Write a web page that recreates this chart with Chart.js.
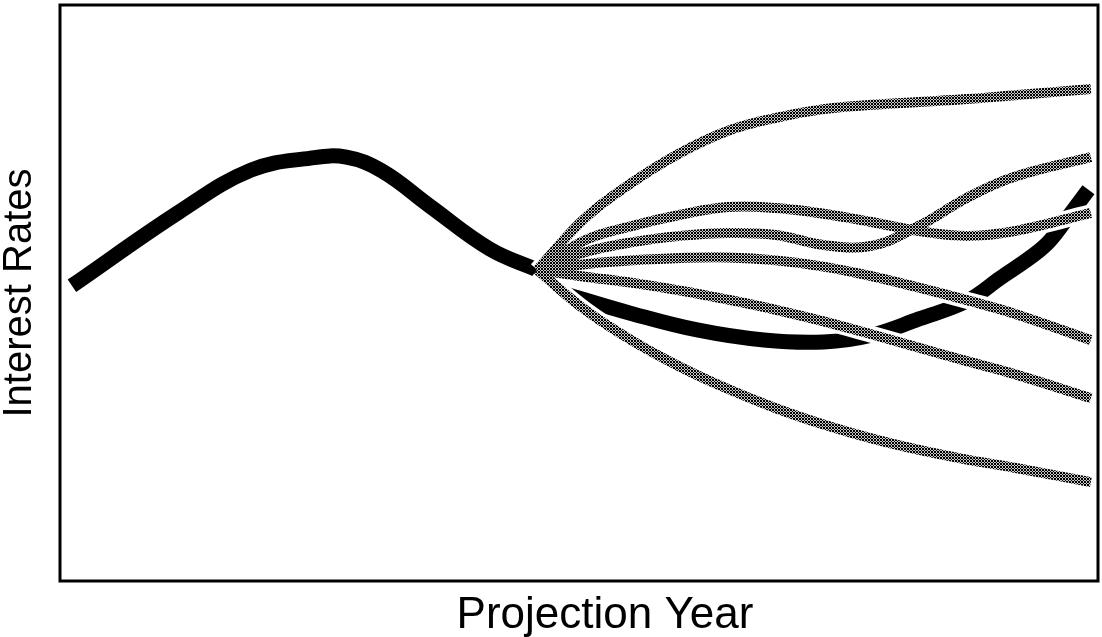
<!DOCTYPE html>
<html>
<head>
<meta charset="utf-8">
<title>Interest Rates</title>
<script src="https://cdn.jsdelivr.net/npm/chart.js@4.4.1/dist/chart.umd.min.js"></script>
<style>
  html, body { margin:0; padding:0; background:#fff; }
</style>
</head>
<body>
<canvas id="rateChart" width="1102" height="637"></canvas>
<script>
// history up to the projection start (year 0)
let histYears = [-19.5, -15, -12, -9.5, -8, -6.5, -4.5, -2, 0];
let histRates = [6.15, 7.69, 8.56, 8.81, 8.83, 8.54, 7.81, 6.92, 6.48];

// the path that actually happened (black)
let baseYears = [1.3, 3.9, 6.7, 9.5, 12.0, 14, 16.0, 18.0, 19.4, 20.8, 21.5, 22.3, 23.1];
let baseRates = [5.96, 5.58, 5.23, 5.02, 4.98, 5.12, 5.46, 5.83, 6.31, 6.79, 7.1, 7.62, 8.15];

// projected scenarios (grey)
let futureYears = [0, 2, 4, 6, 8, 10, 12, 14, 16, 18, 20, 23.2];
let scenario1 = [6.48, 7.56, 8.31, 8.92, 9.38, 9.65, 9.83, 9.92, 9.98, 10.04, 10.12, 10.25];
let scenario2 = [6.48, 7.1, 7.4, 7.63, 7.79, 7.77, 7.65, 7.48, 7.29, 7.19, 7.29, 7.67];
let scenario3 = [6.48, 6.85, 7.06, 7.19, 7.25, 7.21, 7.0, 6.98, 7.4, 7.98, 8.42, 8.83];
let scenario4 = [6.48, 6.6, 6.68, 6.73, 6.74, 6.68, 6.55, 6.35, 6.11, 5.85, 5.57, 5.02];
let scenario5 = [6.48, 6.34, 6.21, 6.05, 5.86, 5.65, 5.41, 5.14, 4.86, 4.58, 4.31, 3.81];
let scenario6 = [6.48, 5.65, 5.0, 4.46, 4.0, 3.6, 3.26, 2.97, 2.73, 2.53, 2.36, 2.06];
let scenarios = [scenario1, scenario2, scenario3, scenario4, scenario5, scenario6];

let xTitle = 'Projection Year';
let yTitle = 'Interest Rates';

function toPoints(xs, ys){
    let pts = [];
    for (let i = 0; i < xs.length; i++){
        pts.push({x: xs[i], y: ys[i]});
    }
    return pts;
}

// halftone look of the grey lines: little x's
function makeHatch(){
    var c = document.createElement('canvas');
    c.width = 3; c.height = 3;
    var g = c.getContext('2d');
    g.fillStyle = '#c8c8c8';
    g.fillRect(0, 0, 3, 3);
    g.fillStyle = '#000';
    for (var x = 0; x < 3; x++){
        for (var y = 0; y < 3; y++){
            if ((x + y) % 3 === 0 || (x - y + 3) % 3 === 0) g.fillRect(x, y, 1, 1);
        }
    }
    return g.createPattern(c, 'repeat');
}

var hatch = makeHatch();
var datasets = [];

scenarios.forEach(function(s){
    datasets.push({
        data: toPoints(futureYears, s),
        borderColor: hatch,
        borderWidth: 10,
        borderCapStyle: 'butt',
        order: 0
    });
    // white casing so the grey lines cut the black one
    datasets.push({
        data: toPoints(futureYears, s),
        borderColor: '#fff',
        borderWidth: 17,
        borderCapStyle: 'butt',
        order: 1
    });
});

datasets.push({
    data: toPoints(histYears, histRates),
    borderColor: '#000',
    borderWidth: 15,
    borderCapStyle: 'butt',
    order: 2
});
datasets.push({
    data: toPoints(baseYears, baseRates),
    borderColor: '#000',
    borderWidth: 15,
    borderCapStyle: 'butt',
    order: 2
});

var titleFont = 'Liberation Sans, Arial, Helvetica, sans-serif';

// box round the plot + x axis title (sits a bit right of centre in the original)
const framePlugin = {
    id: 'frame',
    afterDraw(chart){
        const ctx = chart.ctx;
        const a = chart.chartArea;
        ctx.save();
        ctx.strokeStyle = '#000';
        ctx.lineWidth = 3;
        ctx.strokeRect(a.left, a.top, a.right - a.left, a.bottom - a.top);
        ctx.fillStyle = '#000';
        ctx.font = '44px ' + titleFont;
        ctx.textAlign = 'center';
        ctx.textBaseline = 'alphabetic';
        ctx.fillText(xTitle, (a.left + a.right) / 2 + 26, a.bottom + 47);
        ctx.restore();
    }
};

new Chart(document.getElementById('rateChart').getContext('2d'), {
    type: 'line',
    data: {datasets: datasets},
    options: {
        responsive: false,
        animation: false,
        layout: {padding: {top: 5, right: 4, left: 0, bottom: 56}},
        elements: {
            point: {radius: 0},
            line: {tension: 0.4, borderJoinStyle: 'round', fill: false}
        },
        plugins: {legend: {display: false}, tooltip: {enabled: false}},
        scales: {
            x: {
                type: 'linear', min: -20, max: 23.5,
                ticks: {display: false},
                grid: {display: false, drawTicks: false},
                border: {display: false},
                title: {display: false}
            },
            y: {
                min: 0, max: 12,
                ticks: {display: false},
                grid: {display: false, drawTicks: false},
                border: {display: false},
                title: {display: true, text: yTitle, color: '#000',
                        font: {family: titleFont, size: 40, lineHeight: 1}, padding: {top: 0, bottom: 20}}
            }
        }
    },
    plugins: [framePlugin]
});
</script>
</body>
</html>
